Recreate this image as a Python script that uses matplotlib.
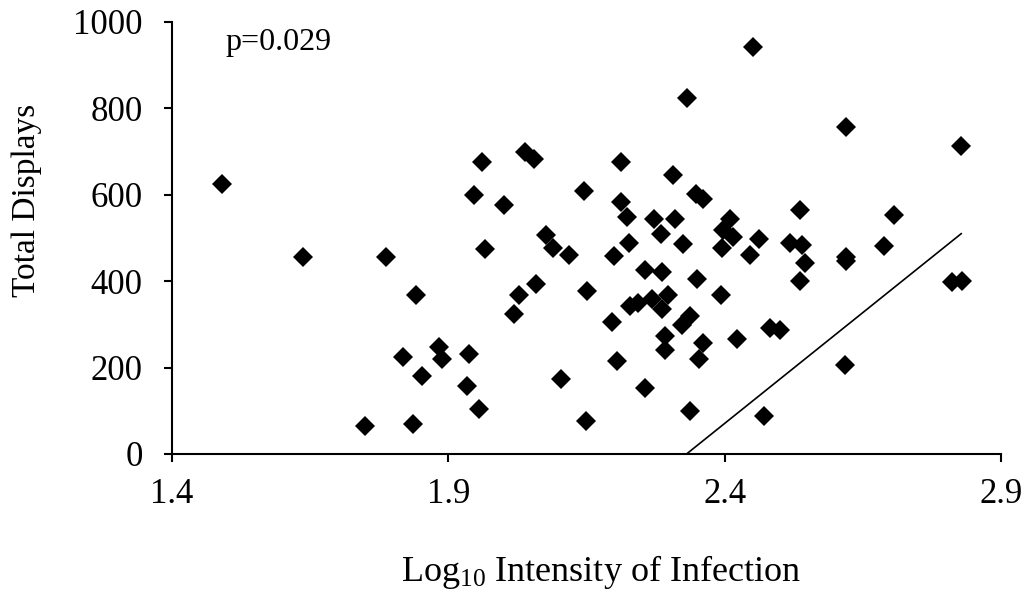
import matplotlib
matplotlib.use("Agg")
import matplotlib.pyplot as plt

plt.rcParams['font.family'] = ['Liberation Serif', 'DejaVu Serif']
plt.rcParams['mathtext.fontset'] = 'custom'
plt.rcParams['mathtext.rm'] = 'Liberation Serif'
plt.rcParams['mathtext.it'] = 'Liberation Serif:italic'

log_intensity = [
    1.491, 1.637, 1.788, 1.841, 1.818, 1.884, 1.888, 1.853, 1.750, 1.836,
    1.937, 1.933, 1.947, 1.961, 2.039, 2.055, 2.212, 2.001, 2.145, 2.213,
    2.223, 1.966, 2.077, 2.089, 2.119, 2.200, 2.227, 2.058, 2.027, 2.019,
    2.151, 2.197, 2.229, 2.244, 2.268, 2.297, 2.287, 1.956, 2.103, 2.205,
    2.149, 2.307, 2.348, 2.360, 2.536, 2.273, 2.311, 2.285, 2.325, 2.410,
    2.397, 2.415, 2.395, 2.463, 2.445, 2.518, 2.540, 2.545, 2.536, 2.256,
    2.286, 2.350, 2.393, 2.337, 2.322, 2.292, 2.292, 2.361, 2.354, 2.422,
    2.482, 2.500, 2.256, 2.337, 2.471, 2.619, 2.827, 2.706, 2.688, 2.619,
    2.620, 2.812, 2.829, 2.618, 2.452, 2.332,
]
total_displays = [
    625, 456, 455, 368, 225, 248, 219, 180, 65, 69,
    232, 158, 600, 677, 698, 683, 677, 577, 608, 584,
    549, 475, 507, 476, 461, 459, 488, 393, 368, 324,
    378, 306, 342, 350, 359, 368, 336, 104, 174, 215,
    77, 645, 602, 590, 565, 544, 544, 510, 486, 544,
    519, 503, 477, 498, 460, 488, 484, 442, 401, 426,
    422, 405, 369, 320, 299, 272, 241, 256, 219, 266,
    291, 287, 152, 100, 88, 756, 712, 554, 481, 456,
    447, 399, 401, 206, 943, 824,
]

line_x = [2.331, 2.828]
line_y = [0, 510]

x_ticks = [1.4, 1.9, 2.4, 2.9]
x_tick_labels = ['1.4', '1.9', '2.4', '2.9']
y_ticks = [0, 200, 400, 600, 800, 1000]
y_tick_labels = ['0', '200', '400', '600', '800', '1000']

fig = plt.figure(figsize=(10.29, 5.93), dpi=100)
ax = fig.add_axes([172/1029, 139/593, 829/1029, 432/593])

ax.plot(log_intensity, total_displays, linestyle='none', marker='D',
        markersize=10, color='black', markeredgewidth=0, clip_on=False)
ax.plot(line_x, line_y, color='black', linewidth=1.2)

ax.set_xlim(1.4, 2.9)
ax.set_ylim(0, 1000)
ax.set_xticks(x_ticks)
ax.set_xticklabels(x_tick_labels)
ax.set_yticks(y_ticks)
ax.set_yticklabels(y_tick_labels)

for s in ['top', 'right']:
    ax.spines[s].set_visible(False)
for s in ['left', 'bottom']:
    ax.spines[s].set_linewidth(1.5)

ax.tick_params(axis='both', direction='out', length=6, width=1.5,
               labelsize=25, colors='black')
ax.tick_params(axis='x', pad=11)
ax.tick_params(axis='y', pad=15)

ax.set_xlabel('Log$_{10}$ Intensity of Infection', fontsize=26, va='center')
ax.xaxis.set_label_coords(0.5175, -0.273)
ax.set_ylabel('Total Displays', fontsize=24, va='center', ha='center')
ax.yaxis.set_label_coords(-0.175, 0.586)

ax.text(0.064, 0.953, 'p=0.029', transform=ax.transAxes, fontsize=23,
        ha='left', va='center')

fig.savefig('out.png', dpi=100)
